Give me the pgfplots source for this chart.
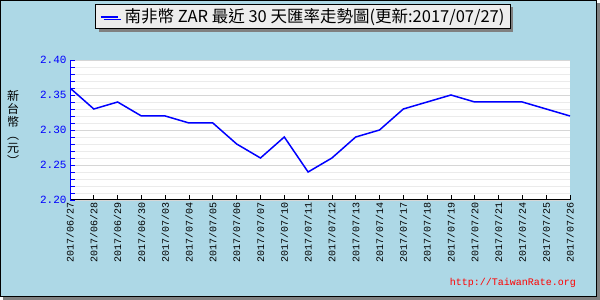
\documentclass[border=0pt]{standalone}
\usepackage{pgfplots}
\pgfplotsset{compat=1.18}
\usepackage{fontspec}
\setmainfont{Liberation Sans}
\setmonofont{Liberation Mono}
\newfontfamily\cjk{Noto Sans CJK TC}
\usetikzlibrary{shadows}
\definecolor{bgblue}{HTML}{ADD8E6}
\definecolor{shadowgray}{HTML}{808080}
\begin{document}
\begin{tikzpicture}[x=1pt,y=1pt]
\fill[shadowgray] (3,0) rectangle (600,297);
\fill[bgblue,draw=black,line width=1pt] (0.5,3.5) rectangle (596.5,299.5);
\node[font=\cjk\fontsize{12}{13}\selectfont, align=center, inner sep=0pt] at (13,172) {新\\台\\幣\\︵\\元\\︶};
\node[font=\ttfamily\fontsize{10}{10}\selectfont, text=red, anchor=east, inner sep=0pt] at (576,17) {http://TaiwanRate.org};
\begin{axis}[
  at={(70pt,100pt)}, anchor=south west,
  width=500pt, height=140pt, scale only axis,
  xmin=0, xmax=21, ymin=2.2, ymax=2.4,
  axis x line*=bottom, axis y line*=left,
  axis line style={-},
  x axis line style={black, line width=1pt},
  y axis line style={blue, line width=1pt},
  axis background/.style={fill=white},
  xtick={0,...,21},
  xticklabels={2017/06/27,2017/06/28,2017/06/29,2017/06/30,2017/07/03,2017/07/04,2017/07/05,2017/07/06,2017/07/07,2017/07/10,2017/07/11,2017/07/12,2017/07/13,2017/07/14,2017/07/17,2017/07/18,2017/07/19,2017/07/20,2017/07/21,2017/07/24,2017/07/25,2017/07/26},
  x tick label style={rotate=90, anchor=east, font=\ttfamily\fontsize{10}{10}\selectfont, inner sep=2pt},
  ytick={2.20,2.25,2.30,2.35,2.40},
  minor ytick={2.21,2.22,2.23,2.24,2.26,2.27,2.28,2.29,2.31,2.32,2.33,2.34,2.36,2.37,2.38,2.39},
  yticklabel style={/pgf/number format/.cd, fixed, fixed zerofill, precision=2, /tikz/.cd, font=\ttfamily\fontsize{11}{11}\selectfont, text=blue},
  /pgf/number format/assume math mode=true,
  tick align=inside,
  major tick length=5pt, minor tick length=5pt,
  x tick style={black, line width=0.8pt},
  y tick style={blue, line width=0.8pt},
  ymajorgrids, yminorgrids,
  major grid style={color=black!16, line width=0.8pt},
  minor grid style={color=black!8, line width=0.8pt},
  legend style={at={(0.466,1.4)}, anchor=north, fill=black!7, draw=black, line width=0.8pt,
    font=\cjk\fontsize{16.5}{16.5}\selectfont, inner xsep=4pt, inner ysep=2.5pt,
    drop shadow={shadow xshift=3pt, shadow yshift=-3pt, fill=shadowgray, opacity=1}},
  legend cell align=left,
  legend image code/.code={\draw[blue, line width=2pt] (0cm,0cm) -- (0.6cm,0cm);},
]
\addplot[blue, line width=1.5pt] coordinates {
(0,2.36) (1,2.33) (2,2.34) (3,2.32) (4,2.32) (5,2.31) (6,2.31) (7,2.28) (8,2.26) (9,2.29) (10,2.24) (11,2.26) (12,2.29) (13,2.30) (14,2.33) (15,2.34) (16,2.35) (17,2.34) (18,2.34) (19,2.34) (20,2.33) (21,2.32)};
\addlegendentry{\hspace{4pt}南非幣 ZAR 最近 30 天匯率走勢圖(更新:2017/07/27)\hspace{10pt}}
\end{axis}
\end{tikzpicture}
\end{document}
